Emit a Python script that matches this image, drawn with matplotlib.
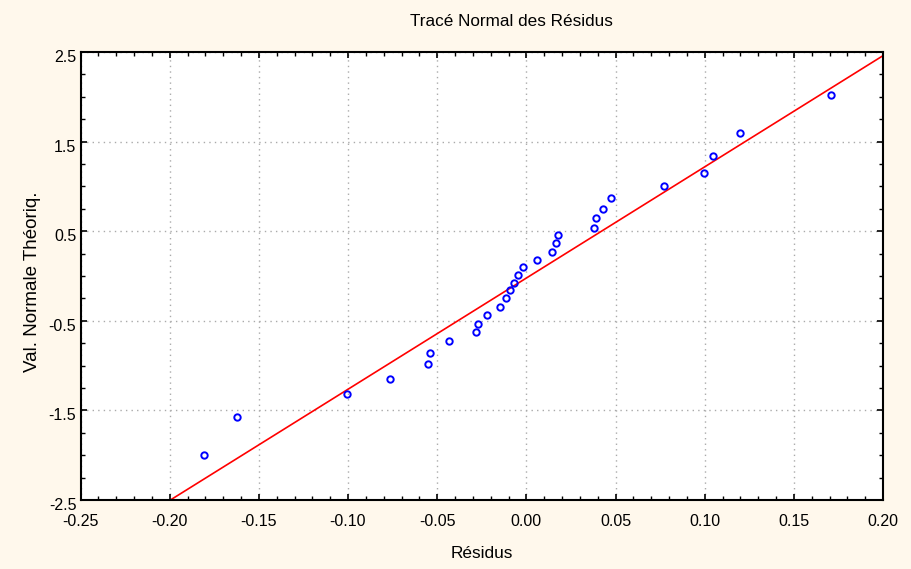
import matplotlib
matplotlib.use("Agg")
import matplotlib.pyplot as plt
from matplotlib.ticker import MultipleLocator, FixedLocator
from matplotlib.transforms import ScaledTranslation
import numpy as np

plt.rcParams['font.family'] = ['Liberation Sans', 'DejaVu Sans']

residus = [-0.1805, -0.1624, -0.1007, -0.0762, -0.0550, -0.0539, -0.0432, -0.0283,
           -0.0272, -0.0219, -0.0148, -0.0112, -0.0090, -0.0070, -0.0047, -0.0017,
           0.0058, 0.0142, 0.0164, 0.0176, 0.0378, 0.0389, 0.0432, 0.0475,
           0.0772, 0.0997, 0.1049, 0.1197, 0.1709]
val_normale = [-1.994, -1.571, -1.319, -1.149, -0.982, -0.855, -0.726, -0.621,
               -0.537, -0.432, -0.348, -0.240, -0.154, -0.073, 0.013, 0.097,
               0.183, 0.269, 0.369, 0.453, 0.539, 0.647, 0.750, 0.876,
               1.003, 1.151, 1.340, 1.592, 2.015]
line_slope = 12.41
line_intercept = -0.023

x_ticks = [-0.25, -0.20, -0.15, -0.10, -0.05, 0.00, 0.05, 0.10, 0.15, 0.20]
y_ticks = [-2.5, -1.5, -0.5, 0.5, 1.5, 2.5]

bg = '#FFF8EC'
fig = plt.figure(figsize=(9.11, 5.69), dpi=100, facecolor=bg)
ax = fig.add_axes([80.5/911, (569-500)/569, (883-80.5)/911, 448/569])
ax.set_facecolor('white')

xl = np.array([-0.25, 0.20])
ax.plot(xl, line_intercept + line_slope*xl, color='red', lw=1.2, zorder=2)
ax.plot(residus, val_normale, 'o', mfc='none', mec='blue', mew=1.4, ms=4.6, zorder=3, clip_on=False)

ax.set_xlim(-0.25, 0.20)
ax.set_ylim(-2.5, 2.5)
ax.xaxis.set_major_locator(FixedLocator(x_ticks))
ax.yaxis.set_major_locator(FixedLocator(y_ticks))
ax.xaxis.set_minor_locator(MultipleLocator(0.01))
ax.yaxis.set_minor_locator(MultipleLocator(0.25))
ax.set_xticklabels([f"{v:.2f}" for v in x_ticks])
ax.set_yticklabels([f"{v:.1f}" for v in y_ticks])

ax.tick_params(which='both', direction='in', top=True, right=True, labelsize=11.5, colors='black')
ax.tick_params(which='major', length=4, width=1.2)
ax.tick_params(which='minor', length=3, width=1.0)
ax.tick_params(axis='x', pad=10)
ax.tick_params(axis='y', pad=3)

shift = ScaledTranslation(0, -4/100, fig.dpi_scale_trans)
for lab in ax.get_yticklabels():
    lab.set_transform(lab.get_transform() + shift)

ax.grid(True, which='major', linestyle=(0, (1, 3)), color='#AAAAAA', lw=1.0)
for s in ax.spines.values():
    s.set_linewidth(1.5)
    s.set_color('black')

fig.text(511.5/911, 1 - 22/569, 'Tracé Normal des Résidus', fontsize=12.3, ha='center', va='center')
fig.text(482/911, 1 - 553/569, 'Résidus', fontsize=12.4, ha='center', va='center')
fig.text(33/911, 1 - 282/569, 'Val. Normale Théoriq.', fontsize=13.5, ha='center', va='center', rotation=90)

fig.savefig('out.png', dpi=100, facecolor=bg)
